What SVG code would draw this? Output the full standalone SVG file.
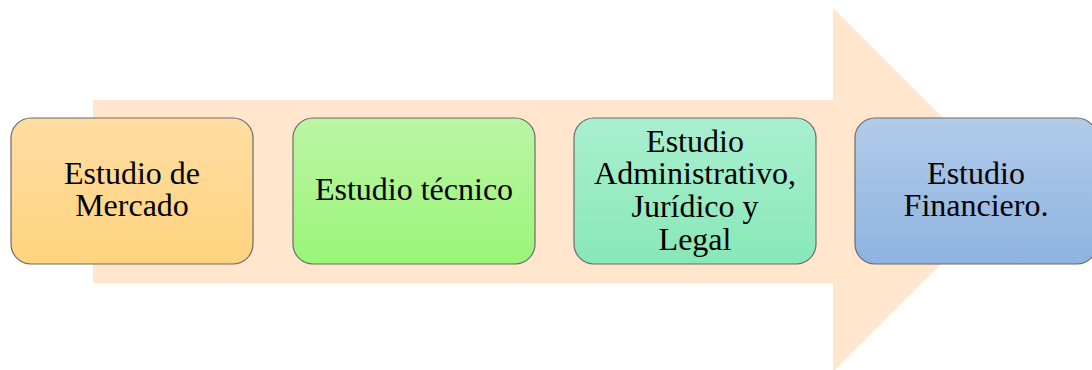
<svg xmlns="http://www.w3.org/2000/svg" width="1092" height="370" viewBox="0 0 1092 370">
<style>
.box{stroke:#6b6b6b;stroke-width:1.2}
.t{font-family:"Liberation Serif","Times New Roman",serif;font-size:32px;fill:#000;text-anchor:middle}
</style>
<defs>
<linearGradient id="g1" x1="0" y1="0" x2="0" y2="1"><stop offset="0" stop-color="#FFDDA3"/><stop offset="1" stop-color="#FFD37E"/></linearGradient>
<linearGradient id="g2" x1="0" y1="0" x2="0" y2="1"><stop offset="0" stop-color="#BCF5A6"/><stop offset="1" stop-color="#9AF577"/></linearGradient>
<linearGradient id="g3" x1="0" y1="0" x2="0" y2="1"><stop offset="0" stop-color="#AAEFD0"/><stop offset="1" stop-color="#88E8B6"/></linearGradient>
<linearGradient id="g4" x1="0" y1="0" x2="0" y2="1"><stop offset="0" stop-color="#B2CBE9"/><stop offset="1" stop-color="#8EB3E1"/></linearGradient>
</defs>
<g id="connectors">
<polygon points="93,100 833,100 833,8 1015,190 833,372 833,283 93,283" fill="#FFE6CC"/>
</g>
<g id="n1">
<rect class="box" x="11" y="118" width="242" height="146" rx="20" fill="url(#g1)"/>
<text class="t" x="132" y="184">Estudio de</text>
<text class="t" x="132" y="216">Mercado</text>
</g>
<g id="n2">
<rect class="box" x="293" y="118" width="242" height="146" rx="20" fill="url(#g2)"/>
<text class="t" x="414" y="200">Estudio técnico</text>
</g>
<g id="n3">
<rect class="box" x="574" y="118" width="242" height="146" rx="20" fill="url(#g3)"/>
<text class="t" x="695" y="152">Estudio</text>
<text class="t" x="695" y="184">Administrativo,</text>
<text class="t" x="695" y="217">Jurídico y</text>
<text class="t" x="695" y="250">Legal</text>
</g>
<g id="n4">
<rect class="box" x="855" y="118" width="242" height="146" rx="20" fill="url(#g4)"/>
<text class="t" x="976" y="184">Estudio</text>
<text class="t" x="976" y="216">Financiero.</text>
</g>
</svg>
